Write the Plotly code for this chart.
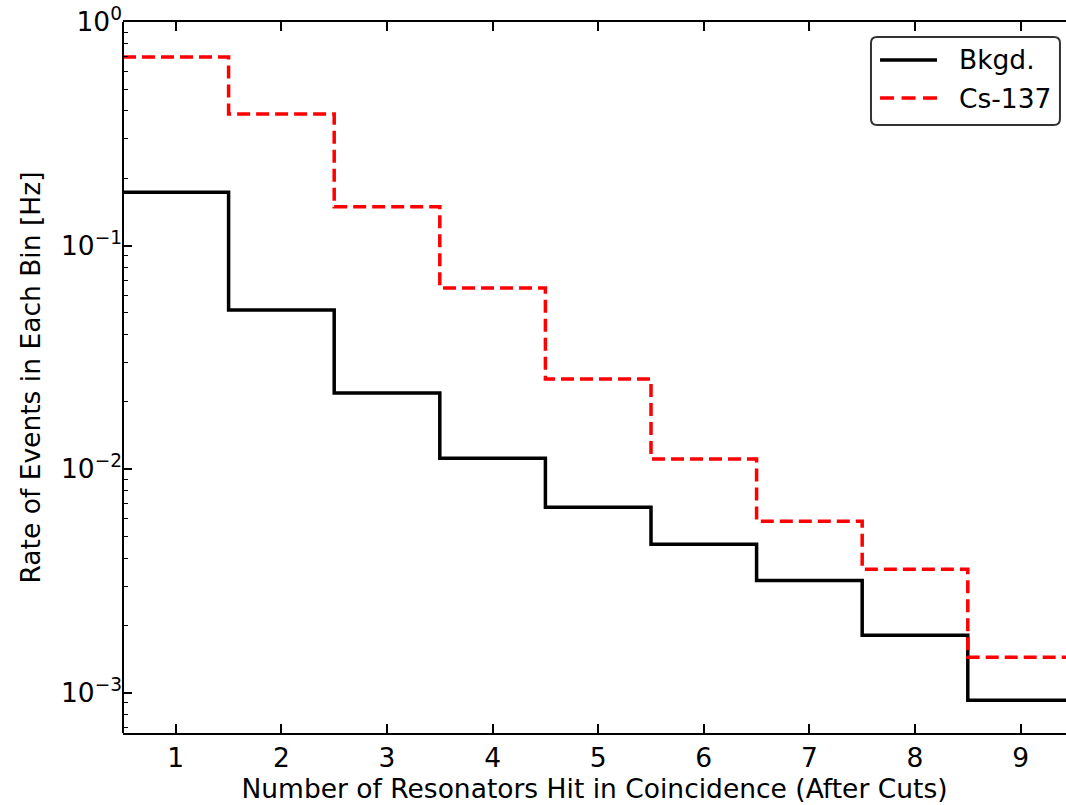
import plotly.graph_objects as go

# Number of resonators hit in coincidence (bin centres)
n_hit = [1, 2, 3, 4, 5, 6, 7, 8, 9]
# Event rate per bin [Hz]
bkgd_rate = [0.173, 0.0515, 0.0219, 0.0112, 0.00676, 0.00462, 0.00318, 0.00181, 0.000925]
cs137_rate = [0.697, 0.388, 0.149, 0.0646, 0.0253, 0.0111, 0.00585, 0.00357, 0.00144]

x_ticks = [1, 2, 3, 4, 5, 6, 7, 8, 9]
y_ticks = [1, 0.1, 0.01, 0.001]
y_tick_text = ["10<sup>0</sup>", "10<sup>\u22121</sup>", "10<sup>\u22122</sup>", "10<sup>\u22123</sup>"]

series_names = ["Bkgd.", "Cs-137"]
series_colors = ["black", "#ff0000"]
series_dash = ["solid", "13px,6px"]


def step_edges(centres, values):
    """Bin edges and values for a histogram-style step outline."""
    edges = [c - 0.5 for c in centres] + [centres[-1] + 0.5]
    return edges, list(values) + [values[-1]]


FONT = "DejaVu Sans"
FS = 26.5
LW = 3.5

fig = go.Figure()

for name, rates, color, dash in zip(series_names, [bkgd_rate, cs137_rate],
                                    series_colors, series_dash):
    ex, ey = step_edges(n_hit, rates)
    fig.add_trace(go.Scatter(
        x=ex, y=ey, mode="lines", name=name,
        line=dict(color=color, width=LW, shape="hv", dash=dash),
    ))

# Legend box drawn as a rounded frame with line samples and labels
shapes = [
    dict(type="line", xref="paper", yref="paper", x0=0, x1=0, y0=0, y1=1,
         line=dict(color="black", width=2)),
    dict(type="path", xref="paper", yref="paper",
         path="M 0.7996,0.9789 L 0.9872,0.9789 Q 0.9936,0.9789 0.9936,0.9705 "
              "L 0.9936,0.8636 Q 0.9936,0.8551 0.9872,0.8551 L 0.7996,0.8551 "
              "Q 0.7932,0.8551 0.7932,0.8636 L 0.7932,0.9705 Q 0.7932,0.9789 0.7996,0.9789 Z",
         line=dict(color="#333333", width=2), fillcolor="rgba(255,255,255,0.8)",
         layer="above"),
]
annotations = []
legend_rows = [0.9466, 0.8931]
for name, color, dash, yrow in zip(series_names, series_colors, series_dash, legend_rows):
    shapes.append(dict(type="line", xref="paper", yref="paper",
                       x0=0.8028, x1=0.8632, y0=yrow, y1=yrow, layer="above",
                       line=dict(color=color, width=LW,
                                 dash="14px,7.5px" if dash != "solid" else "solid")))
    annotations.append(dict(xref="paper", yref="paper", x=0.8844, y=yrow,
                            xanchor="left", yanchor="middle", showarrow=False,
                            text=name, font=dict(family=FONT, size=FS, color="black")))

fig.update_layout(
    width=1066, height=805,
    margin=dict(l=123, r=0, t=22, b=72),
    plot_bgcolor="white", paper_bgcolor="white",
    font=dict(family=FONT, size=FS, color="black"),
    showlegend=False,
    shapes=shapes,
    annotations=annotations,
)

fig.update_xaxes(
    range=[0.5, 9.43],
    tickvals=x_ticks, ticktext=[str(v) for v in x_ticks],
    ticks="inside", ticklen=9, tickwidth=1.5, tickcolor="black",
    showline=True, linecolor="black", linewidth=2, mirror="ticks",
    showgrid=False, zeroline=False,
    tickfont=dict(family=FONT, size=FS),
    title=dict(text="Number of Resonators Hit in Coincidence (After Cuts)",
               font=dict(family=FONT, size=FS), standoff=7),
)

fig.update_yaxes(
    type="log", range=[-3.18, 0],
    tickvals=y_ticks, ticktext=y_tick_text,
    ticks="inside", ticklen=9, tickwidth=1.5, tickcolor="black",
    minor=dict(ticks="inside", ticklen=5, tickwidth=1.2, tickcolor="black",
               dtick="D1", showgrid=False),
    showline=False, showgrid=False, zeroline=False,
    tickfont=dict(family=FONT, size=FS),
    title=dict(text="Rate of Events in Each Bin [Hz]",
               font=dict(family=FONT, size=FS), standoff=12),
)

fig.write_html("out.html")
